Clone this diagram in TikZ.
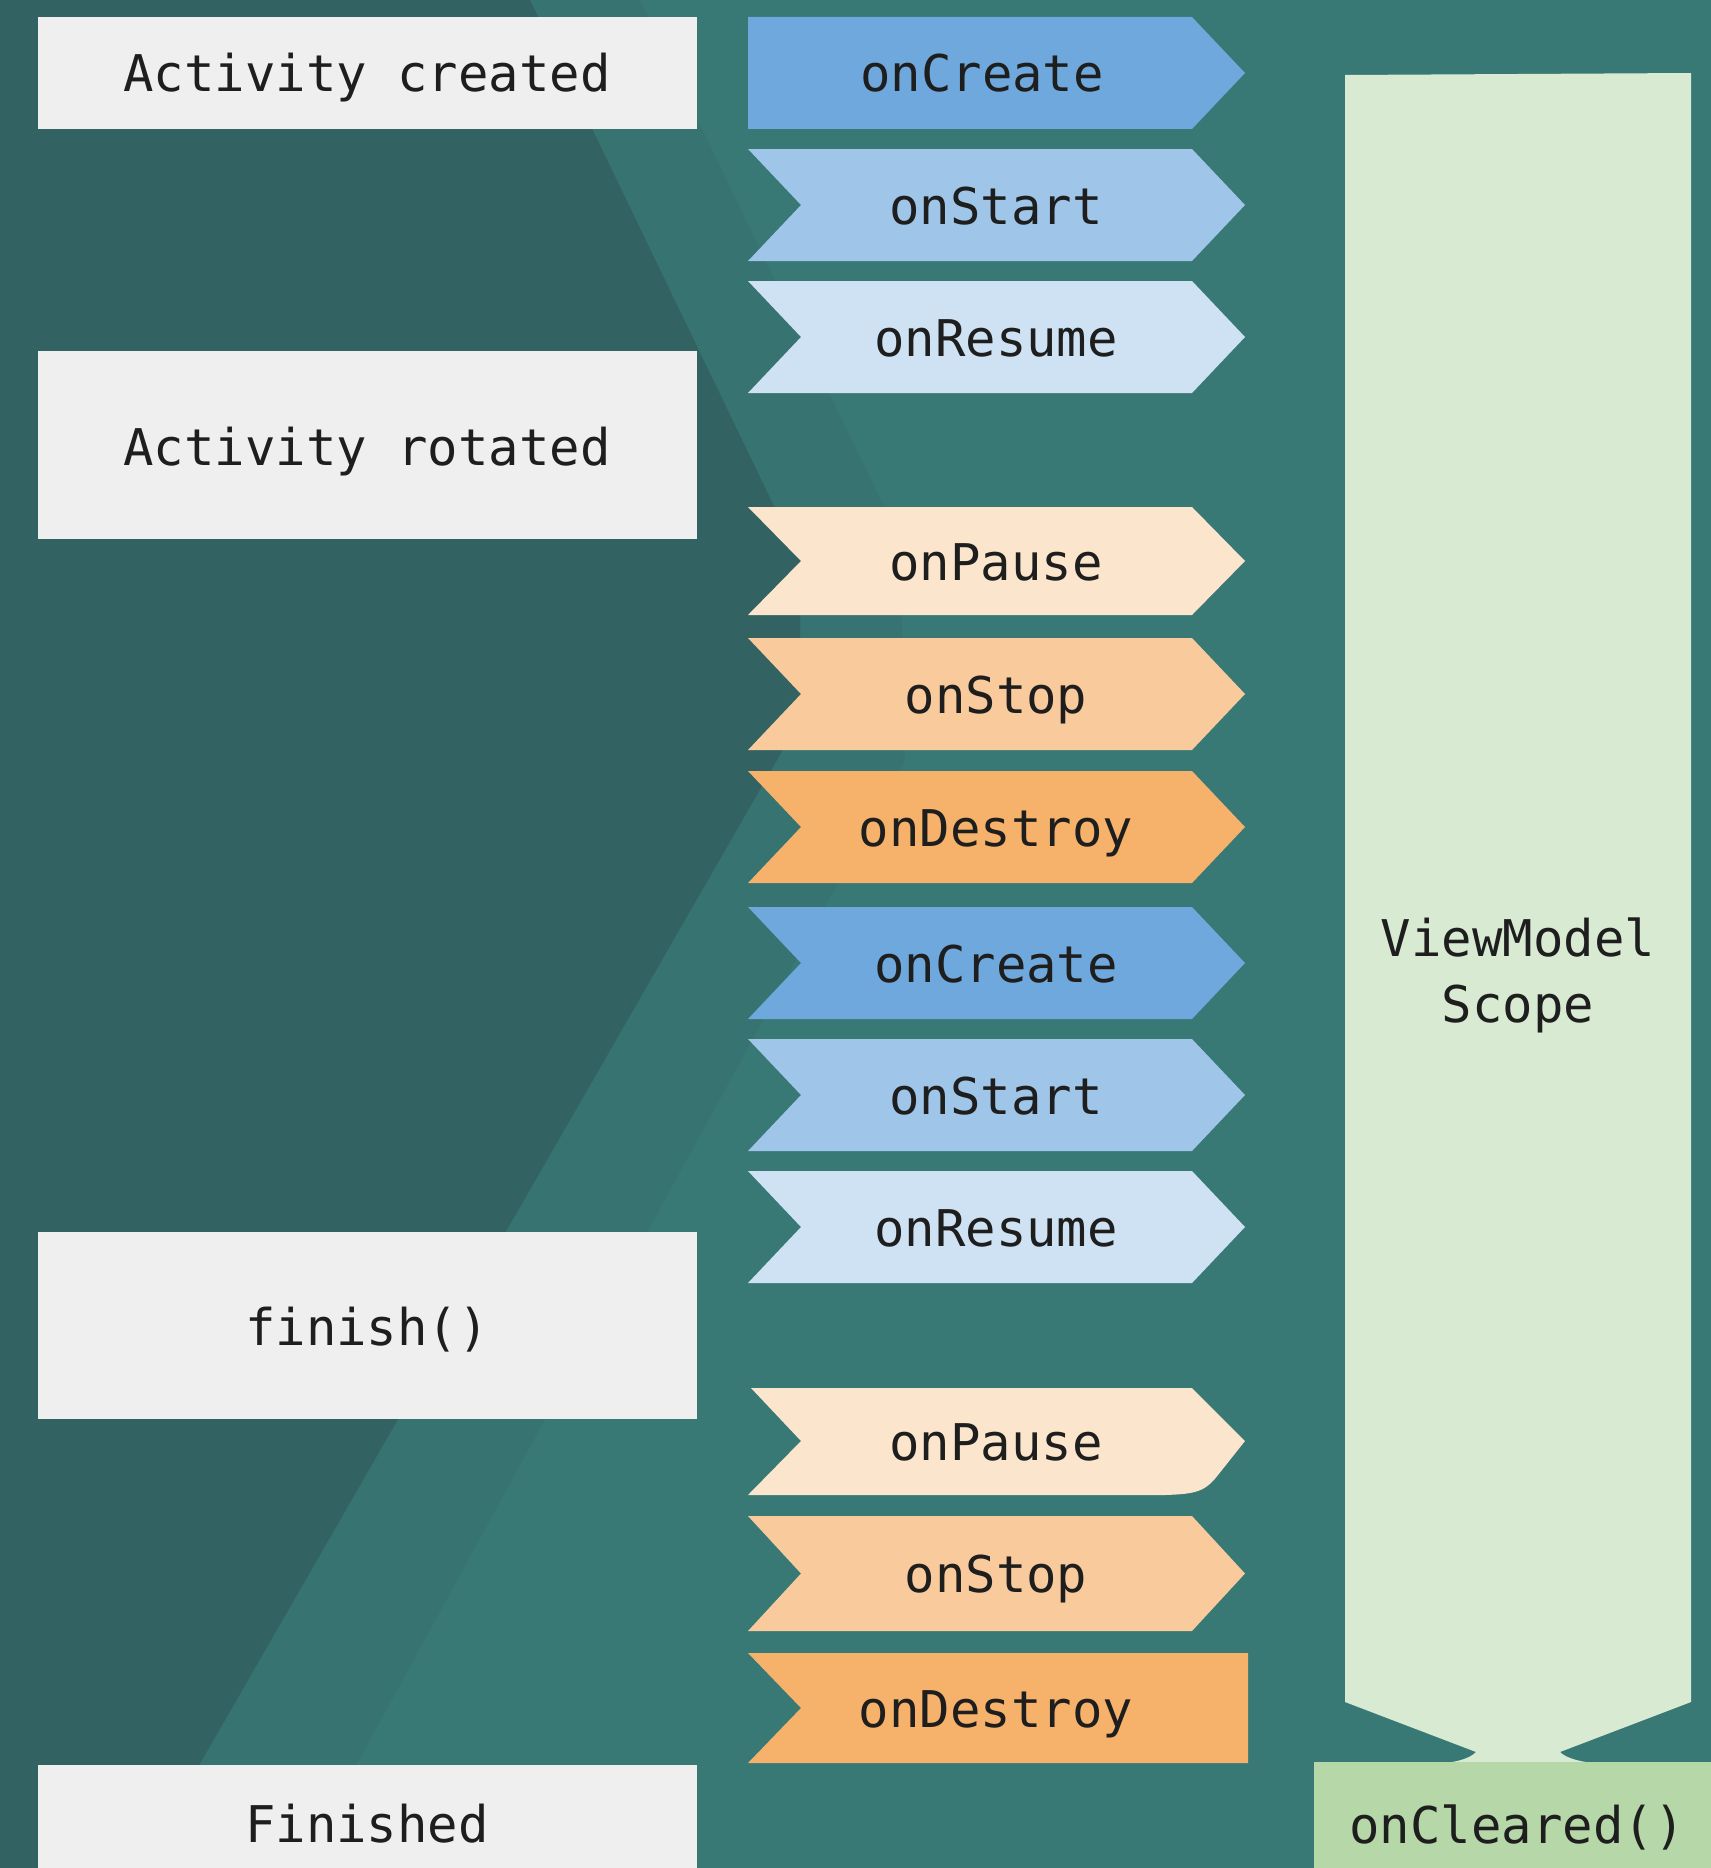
\documentclass[tikz,border=0pt]{standalone}
\usepackage{fontspec}
\newfontfamily\lblfont{DejaVu Sans Mono}
\definecolor{bgR}{HTML}{387976}
\definecolor{bgM}{HTML}{367371}
\definecolor{bgD}{HTML}{326362}
\definecolor{boxgray}{HTML}{EFEFEF}
\definecolor{cCreate}{HTML}{6FA8DC}
\definecolor{cStart}{HTML}{9FC5E8}
\definecolor{cResume}{HTML}{CFE2F3}
\definecolor{cPause}{HTML}{FCE5CD}
\definecolor{cStop}{HTML}{F9CB9C}
\definecolor{cDestroy}{HTML}{F6B26B}
\definecolor{vmgreen}{HTML}{D9EAD3}
\definecolor{clgreen}{HTML}{B6D7A8}
\definecolor{txt}{HTML}{1E1E1E}
\newcommand\chev[5]{% name, top, bottom, colour, text
  \fill[#4] (748,#2) -- (1192,#2) -- (1245,{(#2+#3)/2}) -- (1192,#3) -- (748,#3) -- (801,{(#2+#3)/2}) -- cycle;
  \node[lbl] (#1) at (996,{(#2+#3)/2+19}) {#5};}
\begin{document}
\begin{tikzpicture}[x=0.5pt,y=-0.5pt,
  lbl/.style={font=\lblfont\fontsize{25.3}{33}\selectfont, text=txt, inner sep=0pt, anchor=base}]
\useasboundingbox (0,0) rectangle (1711,1868);
% background
\fill[bgR] (0,0) rectangle (1711,1868);
\fill[bgM] (0,0) -- (640,0) -- (900,540) -- (905,760) -- (300,1868) -- (0,1868) -- cycle;
\fill[bgD] (0,0) -- (530,0) -- (800,560) -- (800,720) -- (140,1868) -- (0,1868) -- cycle;
% left boxes
\fill[boxgray] (38,17) rectangle (697,129);
\node[lbl] (created) at (367,92) {Activity created};
\fill[boxgray] (38,351) rectangle (697,539);
\node[lbl] (rotated) at (367,465) {Activity rotated};
\fill[boxgray] (38,1232) rectangle (697,1419);
\node[lbl] (finish) at (367,1345) {finish()};
\fill[boxgray] (38,1765) rectangle (697,1868);
\node[lbl] (finished) at (367,1842) {Finished};
% lifecycle chevrons
\fill[cCreate] (748,17) -- (1192,17) -- (1245,73) -- (1192,129) -- (748,129) -- cycle;
\node[lbl] (create1) at (982,92) {onCreate};
\chev{start1}{149}{261}{cStart}{onStart}
\chev{resume1}{281}{393}{cResume}{onResume}
\chev{pause1}{507}{615}{cPause}{onPause}
\chev{stop1}{638}{750}{cStop}{onStop}
\chev{destroy1}{771}{883}{cDestroy}{onDestroy}
\chev{create2}{907}{1019}{cCreate}{onCreate}
\chev{start2}{1039}{1151}{cStart}{onStart}
\chev{resume2}{1171}{1283}{cResume}{onResume}
\fill[cPause] (751,1388) -- (1192,1388) -- (1245,1441) -- (1218,1475) .. controls (1205,1492) and (1195,1494) .. (1165,1495) -- (748,1495) -- (801,1441) -- cycle;
\node[lbl] (pause2) at (996,1460) {onPause};
\chev{stop2}{1516}{1631}{cStop}{onStop}
\fill[cDestroy] (748,1653) -- (1248,1653) -- (1248,1763) -- (748,1763) -- (801,1708) -- cycle;
\node[lbl] (destroy2) at (996,1727) {onDestroy};
% ViewModel scope
\fill[vmgreen] (1345,75) -- (1691,73) -- (1691,1702) -- (1518,1768) -- (1345,1702) -- cycle;
\fill[vmgreen] (1476,1752) .. controls (1470,1758) and (1460,1761) .. (1446,1763) -- (1592,1763) .. controls (1578,1761) and (1566,1758) .. (1560,1752) -- cycle;
\node[lbl] (vmA) at (1518,956) {ViewModel};
\node[lbl] (vmB) at (1518,1022) {Scope};
\fill[clgreen] (1314,1762) rectangle (1711,1868);
\node[lbl] (cleared) at (1517,1843) {onCleared()};
\end{tikzpicture}
\end{document}
